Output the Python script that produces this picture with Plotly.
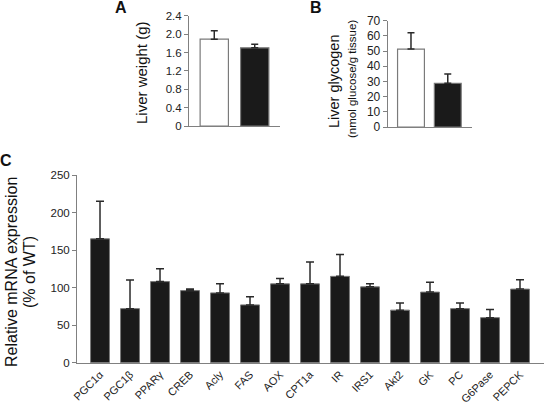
import plotly.graph_objects as go

# ---- data ----
a_groups = ["WT", "KO"]
a_values = [1.89, 1.70]
a_errors = [0.18, 0.08]
a_ticks = [0, 0.4, 0.8, 1.2, 1.6, 2.0, 2.4]
a_ticktext = ["0", "0.4", "0.8", "1.2", "1.6", "2.0", "2.4"]

b_groups = ["WT", "KO"]
b_values = [51.3, 28.8]
b_errors = [10.8, 6.1]
b_ticks = [0, 10, 20, 30, 40, 50, 60, 70]

genes = ["PGC1α", "PGC1β", "PPARγ", "CREB", "Acly", "FAS", "AOX", "CPT1a",
         "IR", "IRS1", "Akt2", "GK", "PC", "G6Pase", "PEPCK"]
c_values = [165, 72, 108, 96, 93, 77, 105, 105, 115, 101, 70, 94, 72, 60, 98]
c_errors = [50, 38, 17, 2, 12, 11, 7, 29, 29, 4, 9.5, 13, 7.5, 11, 12.5]
c_ticks = [0, 50, 100, 150, 200, 250]

W, H = 544, 405
FONT = "Liberation Sans, Arial, Helvetica, sans-serif"
AX = "#808080"
BLACK = "#1a1a1a"


def fx(px):
    return px / W


def fy(py):
    return 1 - py / H


fig = go.Figure()

err_style = dict(type="data", symmetric=False, color="#2a2a2a", thickness=1.5)

fig.add_trace(go.Bar(
    x=list(range(len(a_groups))), y=a_values, width=0.7,
    marker=dict(color=["white", BLACK], line=dict(color="#7a7a7a", width=1.2)),
    error_y=dict(array=a_errors, arrayminus=[0] * len(a_errors), width=3.5, **err_style),
    xaxis="x", yaxis="y", showlegend=False))

fig.add_trace(go.Bar(
    x=list(range(len(b_groups))), y=b_values, width=0.73,
    marker=dict(color=["white", BLACK], line=dict(color="#7a7a7a", width=1.2)),
    error_y=dict(array=b_errors, arrayminus=[0] * len(b_errors), width=3.5, **err_style),
    xaxis="x2", yaxis="y2", showlegend=False))

fig.add_trace(go.Bar(
    x=list(range(len(genes))), y=c_values, width=0.63,
    marker=dict(color=BLACK, line=dict(color="#7a7a7a", width=1)),
    error_y=dict(array=c_errors, arrayminus=[0] * len(c_errors), width=4, **err_style),
    xaxis="x3", yaxis="y3", showlegend=False))

yax_common = dict(showgrid=False, zeroline=False, showline=True, linecolor=AX, linewidth=1,
                  ticks="outside", ticklen=4, tickcolor=AX, tickwidth=1,
                  tickfont=dict(family=FONT, size=11.5, color="#222"))
xax_common = dict(showgrid=False, zeroline=False, showline=True, linecolor=AX, linewidth=1.2)

fig.update_layout(
    width=W, height=H, autosize=False,
    margin=dict(l=0, r=0, t=0, b=0, autoexpand=False),
    paper_bgcolor="white", plot_bgcolor="white",
    font=dict(family=FONT, color="#222"),
    bargap=0.3,
    # Panel A
    xaxis=dict(domain=[fx(189), fx(280)], range=[-0.625, 1.625], showticklabels=False,
               ticks="", anchor="y", **xax_common),
    yaxis=dict(domain=[fy(126), fy(15.7)], range=[0, 2.4], tickvals=a_ticks, ticktext=a_ticktext,
               anchor="x", **yax_common),
    # Panel B
    xaxis2=dict(domain=[fx(387.7), fx(471.7)], range=[-0.633, 1.65], showticklabels=False,
                ticks="", anchor="y2", **xax_common),
    yaxis2=dict(domain=[fy(127), fy(20.7)], range=[0, 70], tickvals=b_ticks,
                anchor="x2", **{**yax_common, "tickfont": dict(family=FONT, size=12, color="#222")}),
    # Panel C
    xaxis3=dict(domain=[fx(77), 1.0], range=[-0.767, 14.8], tickvals=list(range(len(genes))),
                ticktext=genes, tickangle=-45, ticks="", anchor="y3",
                tickfont=dict(family=FONT, size=11, color="#222"), **xax_common),
    yaxis3=dict(domain=[fy(362.7), fy(175)], range=[0, 250], tickvals=c_ticks,
                anchor="x3", **yax_common),
)

ann = []


def label(text, x, y, size, angle=0, bold=False):
    ann.append(dict(text=f"<b>{text}</b>" if bold else text, x=fx(x), y=fy(y),
                    xref="paper", yref="paper", xanchor="center", yanchor="middle",
                    showarrow=False, textangle=angle,
                    font=dict(family=FONT, size=size, color="#111")))


label("A", 121, 8, 16, bold=True)
label("B", 316, 8, 16, bold=True)
label("C", 6, 160, 16, bold=True)
label("Liver weight (g)", 141, 73, 15, angle=-90)
label("Liver glycogen", 334, 81, 14.5, angle=-90)
label("(nmol glucose/g tissue)", 352, 79, 11.5, angle=-90)
label("Relative mRNA expression", 11, 272, 16, angle=-90)
label("(% of WT)", 29, 272, 16, angle=-90)

fig.update_layout(annotations=ann)

fig.write_html(
    "out.html",
    config={"displayModeBar": False, "staticPlot": True},
    post_script="document.body.style.margin='0';document.body.style.overflow='hidden';",
)
